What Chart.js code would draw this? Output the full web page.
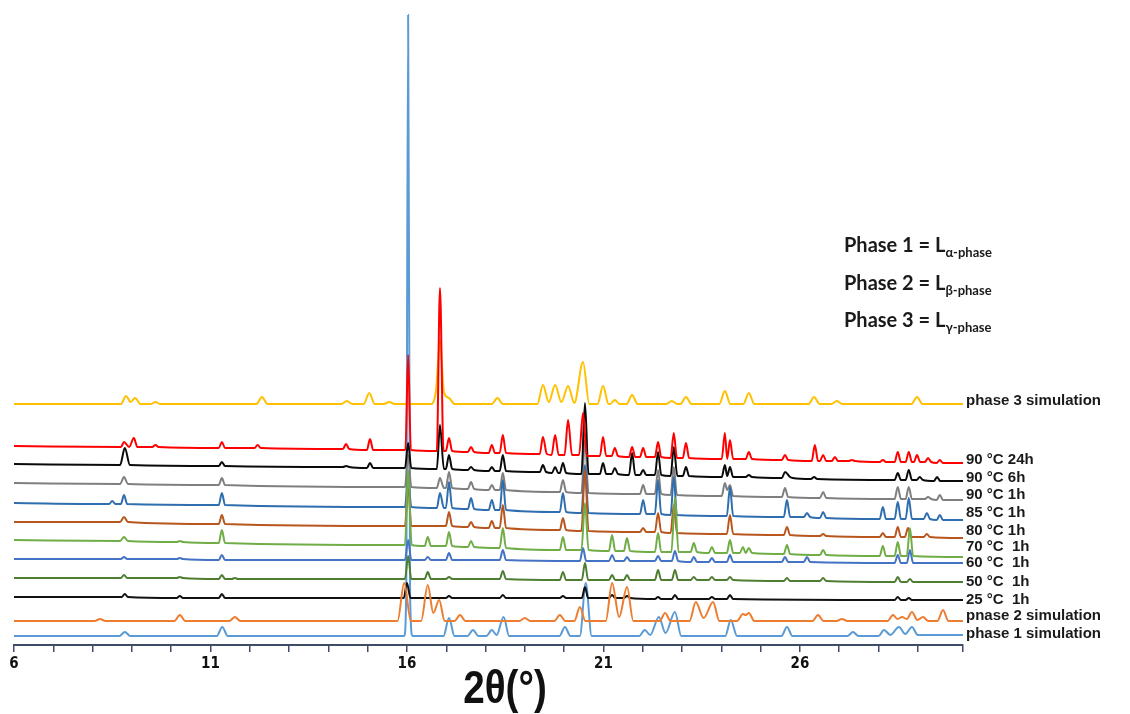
<!DOCTYPE html>
<html>
<head>
<meta charset="utf-8">
<title>XRD patterns</title>
<script src="https://cdn.jsdelivr.net/npm/chart.js@4.4.1/dist/chart.umd.min.js"></script>
<style>
body { margin: 0; background: #fff; }
canvas { display: block; }
</style>
</head>
<body>
<canvas id="xrd_graph" width="1130" height="714"></canvas>
<script>
///////////// Data: [2theta, intensity] /////////////

var phase1Sim = [[6,0],[8.68,0],[8.82,4],[8.96,0],[11.16,0],[11.30,9],[11.44,0],[15.93,0],[15.98,40],[16.03,621],[16.08,40],[16.14,0],[16.93,0],[17.07,18],[17.21,0],[17.54,0],[17.68,6],[17.82,0],[18.02,0],[18.16,6],[18.28,1],[18.46,19],[18.60,0],[19.88,0],[20.02,9],[20.16,0],[20.40,0],[20.55,53],[20.70,0],[21.91,0],[22.05,6],[22.19,1],[22.41,19],[22.58,3],[22.82,24],[22.98,0],[24.10,0],[24.24,16],[24.40,0],[25.53,0],[25.67,9],[25.81,0],[27.21,0],[27.35,4],[27.49,0],[28.00,0],[28.14,6],[28.30,1],[28.52,9],[28.68,2],[28.85,9],[29.00,1],[30.15,1]];

var phase2Sim = [[6,0],[8.05,0],[8.19,2],[8.33,0],[10.08,0],[10.22,6],[10.36,0],[11.48,0],[11.62,4],[11.76,0],[15.76,0],[15.93,38],[16.10,0],[16.36,0],[16.53,36],[16.67,8],[16.82,21],[16.96,0],[17.21,0],[17.35,6],[17.49,0],[18.86,0],[19.00,3],[19.14,0],[19.75,0],[19.89,6],[20.03,0],[20.26,0],[20.40,14],[20.54,0],[21.06,0],[21.22,38],[21.40,4],[21.60,34],[21.76,0],[22.43,0],[22.57,8],[22.71,0],[23.19,0],[23.35,19],[23.55,3],[23.79,19],[23.95,0],[24.40,0],[24.55,7],[24.62,6],[24.70,8],[24.84,0],[26.32,0],[26.46,6],[26.60,0],[26.93,0],[27.07,2],[27.21,0],[28.23,0],[28.37,6],[28.48,2],[28.60,4],[28.72,2],[28.85,9],[28.99,1],[29.13,4],[29.27,0],[29.50,0],[29.64,11],[29.78,0],[30.15,0]];

var t25c1h = [[6,3],[8.74,3],[8.82,6],[8.90,3],[10.14,2],[10.22,4],[10.30,2],[11.21,2],[11.29,6],[11.37,2],[15.92,2],[16.00,17],[16.09,2],[16.99,2],[17.07,4],[17.15,2],[18.36,2],[18.44,5],[18.52,2],[19.89,2],[19.97,4],[20.05,2],[20.45,2],[20.53,13],[20.61,2],[21.14,2],[21.22,5],[21.30,2],[21.52,2],[21.60,4],[21.68,2],[22.31,1],[22.39,3],[22.47,1],[22.74,1],[22.82,5],[22.90,1],[23.68,1],[23.76,3],[23.84,1],[24.14,1],[24.22,5],[24.30,1],[28.41,0],[28.49,3],[28.57,0],[28.69,0],[28.77,2],[28.85,0],[30.15,0]];

var t50c1h = [[6,4],[8.72,4],[8.80,7],[8.88,4],[10.14,4],[10.22,5],[10.30,4],[11.21,3],[11.29,7],[11.37,3],[11.54,3],[11.62,4],[11.70,3],[15.95,3],[16.03,26],[16.11,3],[16.45,3],[16.53,10],[16.61,3],[16.99,3],[17.07,5],[17.15,3],[18.36,3],[18.44,11],[18.52,3],[19.89,2],[19.97,10],[20.05,2],[20.45,2],[20.53,19],[20.61,2],[21.14,2],[21.22,7],[21.30,2],[21.52,2],[21.60,7],[21.68,2],[22.31,2],[22.39,12],[22.47,2],[22.74,2],[22.82,12],[22.90,2],[23.22,2],[23.30,5],[23.38,2],[23.68,2],[23.76,5],[23.84,2],[24.14,2],[24.22,5],[24.30,2],[25.59,1],[25.67,4],[25.75,1],[26.51,1],[26.59,4],[26.67,1],[28.41,0],[28.49,5],[28.57,0],[28.72,0],[28.80,3],[28.88,0],[30.15,0]];

var t60c1h = [[6,4],[8.72,4],[8.80,6],[8.88,4],[10.14,4],[10.22,5],[10.30,4],[11.21,3],[11.29,8],[11.37,3],[15.95,3],[16.03,23],[16.11,3],[16.45,3],[16.53,6],[16.61,3],[16.99,3],[17.07,10],[17.15,3],[18.36,3],[18.44,13],[18.52,3],[20.40,2],[20.48,15],[20.56,2],[21.14,2],[21.22,8],[21.30,2],[21.52,2],[21.60,6],[21.68,2],[22.31,2],[22.39,7],[22.47,2],[22.74,2],[22.82,12],[22.90,2],[23.22,1],[23.30,6],[23.38,1],[23.68,1],[23.76,5],[23.84,1],[24.14,1],[24.22,8],[24.30,1],[25.54,1],[25.62,6],[25.70,1],[26.10,1],[26.18,6],[26.26,1],[28.41,0],[28.49,8],[28.57,0],[28.72,0],[28.80,13],[28.88,0],[30.15,0]];

var t70c1h = [[6,17],[8.70,16],[8.80,20],[8.90,16],[10.14,15],[10.22,16],[10.30,15],[11.21,14],[11.29,27],[11.37,14],[15.95,12],[16.03,87],[16.12,12],[16.45,11],[16.53,20],[16.61,11],[16.99,11],[17.07,25],[17.15,11],[17.55,10],[17.63,16],[17.71,10],[18.36,9],[18.44,29],[18.52,9],[19.89,7],[19.97,20],[20.05,7],[20.44,7],[20.53,54],[20.62,7],[21.14,6],[21.22,22],[21.30,6],[21.52,6],[21.60,19],[21.68,6],[22.31,5],[22.39,24],[22.47,5],[22.73,5],[22.82,60],[22.91,5],[23.22,5],[23.30,14],[23.38,5],[23.68,4],[23.76,10],[23.84,4],[24.14,4],[24.22,17],[24.30,4],[24.47,4],[24.55,10],[24.62,4],[24.70,9],[24.78,4],[25.59,3],[25.67,12],[25.75,3],[26.51,2],[26.59,7],[26.67,2],[28.03,1],[28.11,11],[28.19,1],[28.41,1],[28.49,15],[28.57,1],[28.72,1],[28.80,29],[28.88,1],[30.15,0]];

var t80c1h = [[6,16],[8.70,16],[8.80,21],[8.90,16],[11.21,14],[11.29,23],[11.37,14],[15.95,12],[16.03,53],[16.11,12],[16.99,12],[17.07,26],[17.15,12],[17.55,11],[17.63,16],[17.71,11],[18.08,10],[18.16,17],[18.24,10],[18.36,10],[18.44,33],[18.52,10],[19.89,8],[19.97,20],[20.05,8],[20.44,7],[20.53,68],[20.62,7],[21.93,6],[22.01,10],[22.09,6],[22.31,6],[22.39,25],[22.47,6],[22.71,5],[22.79,33],[22.87,5],[24.14,4],[24.22,23],[24.30,4],[25.59,3],[25.67,11],[25.75,3],[26.51,2],[26.59,4],[26.67,2],[28.03,1],[28.11,5],[28.19,1],[28.41,1],[28.49,11],[28.57,1],[28.67,1],[28.75,10],[28.83,1],[29.15,1],[29.23,4],[29.31,1],[30.15,0]];

var t85c1h = [[6,17],[8.42,16],[8.50,19],[8.58,16],[8.72,16],[8.80,25],[8.88,16],[11.21,15],[11.29,27],[11.37,15],[15.95,13],[16.03,42],[16.11,13],[16.76,12],[16.84,27],[16.94,12],[16.99,12],[17.07,38],[17.15,12],[17.55,11],[17.63,22],[17.71,11],[18.08,10],[18.16,20],[18.24,10],[18.36,10],[18.44,40],[18.52,10],[19.89,8],[19.97,27],[20.05,8],[20.44,7],[20.53,55],[20.62,7],[21.93,6],[22.01,20],[22.09,6],[22.31,6],[22.39,40],[22.47,6],[22.71,5],[22.79,43],[22.87,5],[24.14,4],[24.22,33],[24.30,4],[25.59,3],[25.67,20],[25.75,3],[26.10,3],[26.18,7],[26.26,3],[26.51,2],[26.59,8],[26.67,2],[28.03,1],[28.11,13],[28.19,1],[28.41,1],[28.49,18],[28.57,1],[28.69,1],[28.77,22],[28.85,1],[29.15,1],[29.23,7],[29.31,1],[29.48,0],[29.56,5],[29.64,0],[30.15,0]];

var t90c1h = [[6,17],[8.70,16],[8.80,23],[8.90,16],[11.21,15],[11.29,22],[11.37,15],[15.95,13],[16.03,45],[16.11,13],[16.76,12],[16.84,22],[16.94,12],[16.99,12],[17.07,28],[17.15,12],[17.55,11],[17.63,18],[17.71,11],[18.08,10],[18.16,15],[18.24,10],[18.36,10],[18.44,27],[18.52,10],[19.89,8],[19.97,20],[20.05,8],[20.44,7],[20.53,60],[20.62,7],[21.93,6],[22.01,15],[22.09,6],[22.31,6],[22.39,30],[22.47,6],[22.71,5],[22.79,33],[22.87,5],[24.01,4],[24.09,17],[24.15,10],[24.22,15],[24.30,4],[25.54,3],[25.62,12],[25.70,3],[26.51,2],[26.59,8],[26.67,2],[28.41,1],[28.49,13],[28.57,1],[28.69,1],[28.77,13],[28.85,1],[29.18,1],[29.26,3],[29.34,1],[29.48,0],[29.56,5],[29.64,0],[30.15,0]];

var t90c6h = [[6,17],[8.70,16],[8.82,33],[8.95,16],[11.21,15],[11.29,19],[11.37,15],[14.37,14],[14.45,15],[14.53,14],[14.98,13],[15.06,18],[15.14,13],[15.95,13],[16.03,38],[16.11,13],[16.76,12],[16.84,56],[16.94,12],[16.99,12],[17.07,26],[17.15,12],[17.55,11],[17.63,14],[17.71,11],[18.08,10],[18.16,14],[18.24,10],[18.36,10],[18.44,26],[18.52,10],[19.38,9],[19.46,16],[19.54,9],[19.69,8],[19.77,14],[19.85,8],[19.89,8],[19.97,18],[20.05,8],[20.44,7],[20.53,78],[20.62,7],[20.91,7],[20.99,18],[21.07,7],[21.21,7],[21.29,13],[21.37,7],[21.65,6],[21.73,28],[21.81,6],[21.93,6],[22.01,11],[22.09,6],[22.31,6],[22.39,29],[22.47,6],[22.71,5],[22.79,34],[22.88,5],[23.02,5],[23.10,14],[23.18,5],[24.01,4],[24.09,16],[24.15,5],[24.22,14],[24.30,4],[24.62,4],[24.70,6],[24.78,4],[25.54,3],[25.62,9],[25.75,4],[25.82,3],[26.28,2],[26.36,4],[26.44,2],[28.41,1],[28.49,8],[28.57,1],[28.69,1],[28.77,11],[28.85,1],[28.97,1],[29.05,4],[29.13,1],[29.41,0],[29.49,4],[29.57,0],[30.15,0]];

var t90c24h = [[6,17],[8.72,16],[8.80,21],[8.93,16],[9.05,25],[9.14,16],[9.52,16],[9.60,18],[9.68,16],[11.21,15],[11.29,21],[11.37,15],[12.12,15],[12.20,18],[12.28,15],[14.37,14],[14.45,19],[14.53,14],[14.98,13],[15.06,24],[15.14,13],[15.96,13],[16.03,108],[16.10,13],[16.76,12],[16.84,175],[16.93,12],[16.99,12],[17.07,25],[17.15,12],[17.55,11],[17.63,16],[17.71,11],[18.08,10],[18.16,18],[18.24,10],[18.36,10],[18.44,28],[18.52,10],[19.38,9],[19.46,26],[19.56,9],[19.68,8],[19.77,28],[19.86,8],[20.01,8],[20.10,43],[20.20,8],[20.38,8],[20.48,50],[20.58,7],[20.91,7],[20.99,26],[21.07,7],[21.21,7],[21.29,15],[21.37,7],[21.65,6],[21.73,16],[21.81,6],[21.93,6],[22.01,15],[22.09,6],[22.31,6],[22.39,21],[22.47,6],[22.71,5],[22.79,30],[22.87,5],[23.02,5],[23.10,20],[23.18,5],[24.01,4],[24.09,30],[24.15,4],[24.22,23],[24.30,4],[24.62,4],[24.70,11],[24.78,4],[25.54,3],[25.62,8],[25.70,3],[26.30,2],[26.38,18],[26.46,2],[26.51,2],[26.59,8],[26.67,2],[26.81,2],[26.89,6],[26.97,2],[27.24,2],[27.32,3],[27.40,2],[28.03,1],[28.11,3],[28.19,1],[28.41,1],[28.49,11],[28.57,1],[28.69,1],[28.77,11],[28.85,1],[28.90,1],[28.98,8],[29.06,1],[29.18,1],[29.26,5],[29.34,1],[29.48,0],[29.56,3],[29.64,0],[30.15,0]];

var phase3Sim = [[6,0],[8.72,0],[8.85,8],[8.97,2],[9.08,6],[9.22,0],[9.48,0],[9.60,2],[9.72,0],[12.17,0],[12.31,7],[12.45,0],[14.33,0],[14.47,3],[14.61,0],[14.90,0],[15.04,11],[15.18,0],[15.41,0],[15.55,2],[15.69,0],[16.62,0],[16.74,14],[16.84,64],[16.94,12],[17.07,6],[17.21,0],[18.16,0],[18.30,6],[18.44,0],[19.32,0],[19.46,19],[19.61,2],[19.77,19],[19.93,2],[20.10,18],[20.26,1],[20.48,42],[20.64,0],[20.85,0],[20.99,18],[21.13,0],[21.17,0],[21.29,4],[21.41,0],[21.59,0],[21.73,9],[21.87,0],[22.60,0],[22.74,3],[22.88,0],[22.96,0],[23.10,7],[23.24,0],[23.95,0],[24.09,13],[24.23,0],[24.56,0],[24.70,11],[24.84,0],[26.22,0],[26.36,7],[26.50,0],[26.80,0],[26.94,3],[27.08,0],[28.84,0],[28.98,7],[29.12,0],[30.15,0]];

var traceNames = ["phase 1 simulation", "pnase 2 simulation", "25 \u00B0C  1h", "50 \u00B0C  1h", "60 \u00B0C  1h", "70 \u00B0C  1h", "80 \u00B0C 1h", "85 \u00B0C 1h", "90 \u00B0C 1h", "90 \u00B0C 6h", "90 \u00B0C 24h", "phase 3 simulation"];
var traceData = [phase1Sim, phase2Sim, t25c1h, t50c1h, t60c1h, t70c1h, t80c1h, t85c1h, t90c1h, t90c6h, t90c24h, phase3Sim];
// vertical stacking offset of each pattern
var traceOffsets = [9, 24, 45, 63, 82, 88, 107, 125, 145, 164, 182, 241];
// level (same units) where each name sits at the right
var nameLevels = [11, 29, 45, 63, 82, 98, 114, 132, 150, 167, 185, 244];
var traceColors = ["#5B9BD5", "#ED7D31", "#111111", "#4E7D32", "#4472C4", "#70AD47", "#B8561E", "#2E6DAE", "#7F7F7F", "#0A0A0A", "#FF0000", "#FFC000"];
// higher number = drawn further below
var traceOrder = [12, 4, 5, 7, 6, 2, 3, 9, 10, 8, 1, 11];

var xTicksLabelled = [6, 11, 16, 21, 26];
var phaseNotes = [["Phase 1 = L", "\u03B1-phase"], ["Phase 2 = L", "\u03B2-phase"], ["Phase 3 = L", "\u03B3-phase"]];

var narrowFont = "'Liberation Sans Narrow', 'DejaVu Sans Condensed', 'Arial Narrow', sans-serif";

////////////////// datasets //////////////////
var datasets = [];
for (var i = 0; i < traceData.length; i++) {
    var off = traceOffsets[i];
    datasets.push({
        label: traceNames[i],
        data: traceData[i].map(function (p) { return [p[0], p[1] + off]; }),
        borderColor: traceColors[i],
        borderWidth: 2,
        pointRadius: 0,
        cubicInterpolationMode: 'monotone',
        order: traceOrder[i],
        clip: false
    });
}

////////////////// text drawn on top //////////////////
var textPlugin = {
    id: 'xrdText',
    afterDatasetsDraw: function (chart) {
        var ctx = chart.ctx;
        var yScale = chart.scales.y;
        ctx.save();

        // trace names at right end
        ctx.font = "bold 15px 'Liberation Sans', Arial, sans-serif";
        ctx.fillStyle = "#1a1a1a";
        ctx.textBaseline = "middle";
        ctx.textAlign = "left";
        chart.data.datasets.forEach(function (ds, n) {
            ctx.fillText(ds.label, chart.chartArea.right + 3, yScale.getPixelForValue(nameLevels[n]));
        });

        // phase notes
        var ys = [252, 290, 327];
        for (var k = 0; k < phaseNotes.length; k++) {
            ctx.font = "bold 20px Lato, 'Open Sans', sans-serif";
            ctx.textBaseline = "alphabetic";
            ctx.fillText(phaseNotes[k][0], 844, ys[k]);
            var w = ctx.measureText(phaseNotes[k][0]).width;
            ctx.font = "bold 13px Lato, 'Open Sans', sans-serif";
            ctx.fillText(phaseNotes[k][1], 844 + w, ys[k] + 5);
        }

        // axis title, squeezed to look like a narrow face
        ctx.font = "bold 46px 'Liberation Sans', Arial, sans-serif";
        ctx.textAlign = "center";
        ctx.textBaseline = "middle";
        ctx.fillStyle = "#111";
        ctx.translate(505, 690);
        ctx.scale(0.84, 1);
        ctx.fillText("2\u03B8(\u00B0)", 0, 0);
        ctx.restore();
    }
};

var chart = new Chart(document.getElementById('xrd_graph'), {
    type: 'line',
    data: { datasets: datasets },
    options: {
        responsive: false,
        animation: false,
        devicePixelRatio: 1,
        layout: { padding: { left: 14, right: 167, top: 5, bottom: 0 } },
        plugins: { legend: { display: false }, tooltip: { enabled: false } },
        scales: {
            x: {
                type: 'linear',
                min: 6,
                max: 30.15,
                afterFit: function (scale) { scale.height = 69; },
                border: { display: true, color: '#3E4C6A', width: 2 },
                grid: { display: true, drawOnChartArea: false, drawTicks: true, tickLength: 7, color: '#3E4C6A', lineWidth: 1.5 },
                ticks: {
                    stepSize: 1,
                    autoSkip: false,
                    maxRotation: 0,
                    padding: 3,
                    color: '#111',
                    font: { family: narrowFont, size: 15, weight: 'bold' },
                    callback: function (v) { return xTicksLabelled.indexOf(v) >= 0 ? String(v) : ''; }
                }
            },
            y: { display: false, min: 0, max: 640 }
        }
    },
    plugins: [textPlugin]
});
</script>
</body>
</html>
